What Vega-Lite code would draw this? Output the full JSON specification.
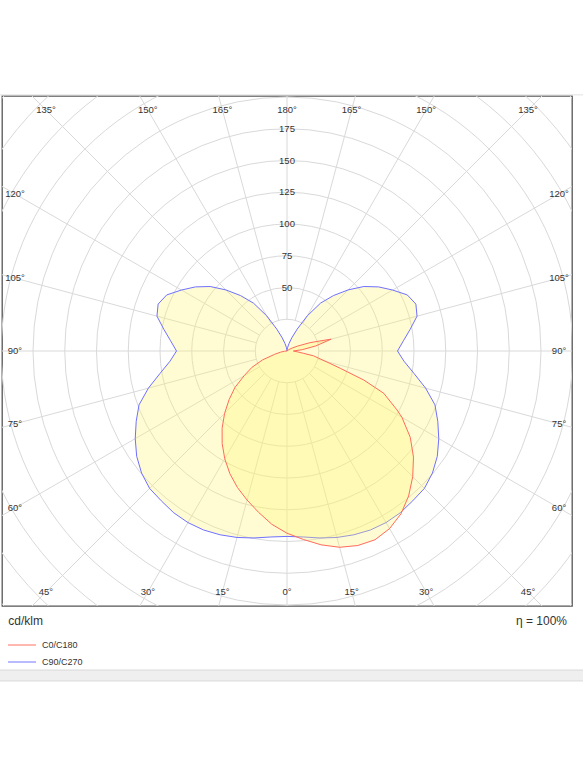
{
  "$schema": "https://vega.github.io/schema/vega-lite/v6.json",
  "description": "Polar light distribution curve, C0/C180 and C90/C270 planes, cd/klm",
  "width": 570,
  "height": 510,
  "autosize": {"type": "none"},
  "padding": {"left": 2, "top": 96, "right": 11, "bottom": 171},
  "background": "white",
  "view": {"stroke": "#555555", "strokeWidth": 1.3},
  "config": {"font": "Liberation Sans"},
  "datasets": {
    "curves": [
      {"c": "C90/C270", "a": -180, "cd": 0}, {"c": "C90/C270", "a": -175, "cd": 1}, {"c": "C90/C270", "a": -170, "cd": 3},
      {"c": "C90/C270", "a": -165, "cd": 6}, {"c": "C90/C270", "a": -160, "cd": 11}, {"c": "C90/C270", "a": -155, "cd": 19},
      {"c": "C90/C270", "a": -150, "cd": 32}, {"c": "C90/C270", "a": -145, "cd": 46}, {"c": "C90/C270", "a": -140, "cd": 57},
      {"c": "C90/C270", "a": -135, "cd": 68}, {"c": "C90/C270", "a": -130, "cd": 79}, {"c": "C90/C270", "a": -125, "cd": 88},
      {"c": "C90/C270", "a": -120, "cd": 96}, {"c": "C90/C270", "a": -115, "cd": 104.5}, {"c": "C90/C270", "a": -110, "cd": 108},
      {"c": "C90/C270", "a": -105, "cd": 106}, {"c": "C90/C270", "a": -100, "cd": 98.5}, {"c": "C90/C270", "a": -95, "cd": 92},
      {"c": "C90/C270", "a": -90, "cd": 87}, {"c": "C90/C270", "a": -85, "cd": 92.5}, {"c": "C90/C270", "a": -80, "cd": 101.5},
      {"c": "C90/C270", "a": -75, "cd": 113}, {"c": "C90/C270", "a": -70, "cd": 124}, {"c": "C90/C270", "a": -65, "cd": 131},
      {"c": "C90/C270", "a": -60, "cd": 138}, {"c": "C90/C270", "a": -55, "cd": 144.5}, {"c": "C90/C270", "a": -50, "cd": 149.5},
      {"c": "C90/C270", "a": -45, "cd": 153}, {"c": "C90/C270", "a": -40, "cd": 154}, {"c": "C90/C270", "a": -35, "cd": 155.5},
      {"c": "C90/C270", "a": -30, "cd": 156}, {"c": "C90/C270", "a": -25, "cd": 155.5}, {"c": "C90/C270", "a": -20, "cd": 154},
      {"c": "C90/C270", "a": -15, "cd": 152}, {"c": "C90/C270", "a": -10, "cd": 149.5}, {"c": "C90/C270", "a": -5, "cd": 147},
      {"c": "C90/C270", "a": 0, "cd": 146},
      {"c": "C90/C270", "a": 5, "cd": 147}, {"c": "C90/C270", "a": 10, "cd": 149.5}, {"c": "C90/C270", "a": 15, "cd": 152},
      {"c": "C90/C270", "a": 20, "cd": 154}, {"c": "C90/C270", "a": 25, "cd": 155.5}, {"c": "C90/C270", "a": 30, "cd": 156},
      {"c": "C90/C270", "a": 35, "cd": 155.5}, {"c": "C90/C270", "a": 40, "cd": 154}, {"c": "C90/C270", "a": 45, "cd": 153},
      {"c": "C90/C270", "a": 50, "cd": 149.5}, {"c": "C90/C270", "a": 55, "cd": 144.5}, {"c": "C90/C270", "a": 60, "cd": 138},
      {"c": "C90/C270", "a": 65, "cd": 131}, {"c": "C90/C270", "a": 70, "cd": 124}, {"c": "C90/C270", "a": 75, "cd": 113},
      {"c": "C90/C270", "a": 80, "cd": 101.5}, {"c": "C90/C270", "a": 85, "cd": 92.5}, {"c": "C90/C270", "a": 90, "cd": 87},
      {"c": "C90/C270", "a": 95, "cd": 92}, {"c": "C90/C270", "a": 100, "cd": 98.5}, {"c": "C90/C270", "a": 105, "cd": 106},
      {"c": "C90/C270", "a": 110, "cd": 108}, {"c": "C90/C270", "a": 115, "cd": 104.5}, {"c": "C90/C270", "a": 120, "cd": 96},
      {"c": "C90/C270", "a": 125, "cd": 88}, {"c": "C90/C270", "a": 130, "cd": 79}, {"c": "C90/C270", "a": 135, "cd": 68},
      {"c": "C90/C270", "a": 140, "cd": 57}, {"c": "C90/C270", "a": 145, "cd": 46}, {"c": "C90/C270", "a": 150, "cd": 32},
      {"c": "C90/C270", "a": 155, "cd": 19}, {"c": "C90/C270", "a": 160, "cd": 11}, {"c": "C90/C270", "a": 165, "cd": 6},
      {"c": "C90/C270", "a": 170, "cd": 3}, {"c": "C90/C270", "a": 175, "cd": 1}, {"c": "C90/C270", "a": 180, "cd": 0},

      {"c": "C0/C180", "a": -180, "cd": 0}, {"c": "C0/C180", "a": -90, "cd": 0}, {"c": "C0/C180", "a": -85, "cd": 2},
      {"c": "C0/C180", "a": -80, "cd": 5}, {"c": "C0/C180", "a": -75, "cd": 10}, {"c": "C0/C180", "a": -70, "cd": 20.5},
      {"c": "C0/C180", "a": -65, "cd": 30.5}, {"c": "C0/C180", "a": -60, "cd": 39}, {"c": "C0/C180", "a": -55, "cd": 50},
      {"c": "C0/C180", "a": -50, "cd": 59.5}, {"c": "C0/C180", "a": -45, "cd": 69.5}, {"c": "C0/C180", "a": -40, "cd": 79.5},
      {"c": "C0/C180", "a": -35, "cd": 89}, {"c": "C0/C180", "a": -30, "cd": 98}, {"c": "C0/C180", "a": -25, "cd": 106.5},
      {"c": "C0/C180", "a": -20, "cd": 114.3}, {"c": "C0/C180", "a": -15, "cd": 121.5}, {"c": "C0/C180", "a": -10, "cd": 129},
      {"c": "C0/C180", "a": -5, "cd": 137}, {"c": "C0/C180", "a": 0, "cd": 143.5}, {"c": "C0/C180", "a": 5, "cd": 149},
      {"c": "C0/C180", "a": 10, "cd": 155}, {"c": "C0/C180", "a": 15, "cd": 160}, {"c": "C0/C180", "a": 20, "cd": 163},
      {"c": "C0/C180", "a": 25, "cd": 164}, {"c": "C0/C180", "a": 30, "cd": 161.5}, {"c": "C0/C180", "a": 35, "cd": 156.5},
      {"c": "C0/C180", "a": 40, "cd": 149}, {"c": "C0/C180", "a": 45, "cd": 140}, {"c": "C0/C180", "a": 50, "cd": 130},
      {"c": "C0/C180", "a": 55, "cd": 118.5}, {"c": "C0/C180", "a": 60, "cd": 104.5}, {"c": "C0/C180", "a": 61.8, "cd": 98.3},
      {"c": "C0/C180", "a": 66.4, "cd": 83.1}, {"c": "C0/C180", "a": 69.3, "cd": 64.6}, {"c": "C0/C180", "a": 72, "cd": 44.1},
      {"c": "C0/C180", "a": 74.6, "cd": 32.7}, {"c": "C0/C180", "a": 79.7, "cd": 21.2}, {"c": "C0/C180", "a": 82, "cd": 13},
      {"c": "C0/C180", "a": 85, "cd": 8.6}, {"c": "C0/C180", "a": 90, "cd": 5}, {"c": "C0/C180", "a": 95, "cd": 12},
      {"c": "C0/C180", "a": 100, "cd": 23}, {"c": "C0/C180", "a": 105, "cd": 36}, {"c": "C0/C180", "a": 107, "cd": 27},
      {"c": "C0/C180", "a": 110, "cd": 19}, {"c": "C0/C180", "a": 115, "cd": 9}, {"c": "C0/C180", "a": 120, "cd": 4.5},
      {"c": "C0/C180", "a": 125, "cd": 2}, {"c": "C0/C180", "a": 130, "cd": 0}, {"c": "C0/C180", "a": 180, "cd": 0}
    ]
  },
  "layer": [
    {
      "data": {"values": [{}]},
      "mark": {"type": "rect", "fill": "#efefef", "stroke": "#d9d9d9", "strokeWidth": 1, "clip": false},
      "encoding": {
        "x": {"datum": -232, "type": "quantitative", "scale": {"domain": [-224.41, 224.41], "nice": false, "zero": false}, "axis": null},
        "x2": {"datum": 236},
        "y": {"datum": -251.2, "type": "quantitative", "scale": {"domain": [-200.79, 200.79], "nice": false, "zero": false}, "axis": null},
        "y2": {"datum": -259.8}
      }
    },
    {
      "data": {"values": [{}]},
      "mark": {"type": "rule", "stroke": "#e2e2e2", "strokeWidth": 1, "clip": false},
      "encoding": {
        "x": {"datum": -232, "type": "quantitative"},
        "x2": {"datum": 236},
        "y": {"datum": 201.7, "type": "quantitative"}
      }
    },
    {
      "data": {"values": [{"r": 25}, {"r": 50}, {"r": 75}, {"r": 100}, {"r": 125}, {"r": 150}, {"r": 175}, {"r": 200}, {"r": 225}, {"r": 250}, {"r": 275}, {"r": 300}]},
      "mark": {"type": "point", "shape": "circle", "filled": false, "color": "#d9d9d9", "opacity": 1, "strokeWidth": 1, "clip": true},
      "encoding": {
        "x": {"datum": 0, "type": "quantitative"},
        "y": {"datum": 0, "type": "quantitative"},
        "size": {"field": "r", "type": "quantitative", "scale": {"type": "pow", "exponent": 2, "domain": [0, 300], "range": [0, 580644]}, "legend": null}
      }
    },
    {
      "data": {"values": [
        {"deg": -165}, {"deg": -150}, {"deg": -135}, {"deg": -120}, {"deg": -105}, {"deg": -90},
        {"deg": -75}, {"deg": -60}, {"deg": -45}, {"deg": -30}, {"deg": -15}, {"deg": 0},
        {"deg": 15}, {"deg": 30}, {"deg": 45}, {"deg": 60}, {"deg": 75}, {"deg": 90},
        {"deg": 105}, {"deg": 120}, {"deg": 135}, {"deg": 150}, {"deg": 165}, {"deg": 180}
      ]},
      "transform": [
        {"calculate": "datum.deg * PI / 180", "as": "rad"},
        {"calculate": "25 * sin(datum.rad)", "as": "x"},
        {"calculate": "-25 * cos(datum.rad)", "as": "y"},
        {"calculate": "400 * sin(datum.rad)", "as": "x2"},
        {"calculate": "-400 * cos(datum.rad)", "as": "y2"}
      ],
      "mark": {"type": "rule", "stroke": "#d9d9d9", "strokeWidth": 1, "clip": true},
      "encoding": {
        "x": {"field": "x", "type": "quantitative"},
        "y": {"field": "y", "type": "quantitative"},
        "x2": {"field": "x2"},
        "y2": {"field": "y2"}
      }
    },
    {
      "data": {"name": "curves"},
      "transform": [
        {"filter": "datum.c == 'C90/C270'"},
        {"calculate": "datum.a * PI / 180", "as": "rad"},
        {"calculate": "datum.cd * sin(datum.rad)", "as": "x"},
        {"calculate": "-datum.cd * cos(datum.rad)", "as": "y"}
      ],
      "mark": {"type": "line", "fill": "#fff570", "fillOpacity": 0.3, "strokeWidth": 1, "clip": true},
      "encoding": {
        "x": {"field": "x", "type": "quantitative"},
        "y": {"field": "y", "type": "quantitative"},
        "order": {"field": "a", "type": "quantitative"},
        "color": {
          "field": "c", "type": "nominal",
          "scale": {"domain": ["C0/C180", "C90/C270"], "range": ["#ff6b5b", "#7070ff"]},
          "legend": {
            "orient": "none", "legendX": 5, "legendY": 543, "title": null,
            "symbolType": "stroke", "symbolSize": 784, "symbolStrokeWidth": 1.2, "symbolOpacity": 0.8,
            "labelFont": "Liberation Sans", "labelFontSize": 9, "labelColor": "#333333", "labelOffset": 5,
            "clipHeight": 12, "rowPadding": 5, "padding": 0
          }
        }
      }
    },
    {
      "data": {"name": "curves"},
      "transform": [
        {"filter": "datum.c == 'C0/C180'"},
        {"calculate": "datum.a * PI / 180", "as": "rad"},
        {"calculate": "datum.cd * sin(datum.rad)", "as": "x"},
        {"calculate": "-datum.cd * cos(datum.rad)", "as": "y"}
      ],
      "mark": {"type": "line", "fill": "#fff570", "fillOpacity": 0.3, "strokeWidth": 1, "clip": true},
      "encoding": {
        "x": {"field": "x", "type": "quantitative"},
        "y": {"field": "y", "type": "quantitative"},
        "order": {"field": "a", "type": "quantitative"},
        "color": {"field": "c", "type": "nominal"}
      }
    },
    {
      "data": {"values": [{"r": 50}, {"r": 75}, {"r": 100}, {"r": 125}, {"r": 150}, {"r": 175}]},
      "mark": {"type": "text", "fontSize": 9.5, "color": "#333333", "align": "center", "baseline": "middle"},
      "encoding": {
        "x": {"datum": 0, "type": "quantitative"},
        "y": {"field": "r", "type": "quantitative"},
        "text": {"field": "r", "type": "quantitative"}
      }
    },
    {
      "data": {"values": [
        {"deg": -165}, {"deg": -150}, {"deg": -135}, {"deg": -120}, {"deg": -105}, {"deg": -90},
        {"deg": -75}, {"deg": -60}, {"deg": -45}, {"deg": -30}, {"deg": -15}, {"deg": 0},
        {"deg": 15}, {"deg": 30}, {"deg": 45}, {"deg": 60}, {"deg": 75}, {"deg": 90},
        {"deg": 105}, {"deg": 120}, {"deg": 135}, {"deg": 150}, {"deg": 165}, {"deg": 180}
      ]},
      "transform": [
        {"calculate": "datum.deg * PI / 180", "as": "rad"},
        {"calculate": "min(214.2 / max(abs(sin(datum.rad)), 1e-9), 189.8 / max(abs(cos(datum.rad)), 1e-9))", "as": "t"},
        {"calculate": "datum.t * sin(datum.rad)", "as": "x"},
        {"calculate": "-datum.t * cos(datum.rad)", "as": "y"},
        {"calculate": "abs(datum.deg) + '°'", "as": "label"}
      ],
      "mark": {"type": "text", "fontSize": 9.5, "color": "#333333", "align": "center", "baseline": "middle"},
      "encoding": {
        "x": {"field": "x", "type": "quantitative"},
        "y": {"field": "y", "type": "quantitative"},
        "text": {"field": "label"}
      }
    },
    {
      "data": {"values": [{}]},
      "mark": {"type": "text", "text": "cd/klm", "fontSize": 12, "color": "#333333", "align": "left", "baseline": "middle", "clip": false},
      "encoding": {
        "x": {"datum": -219.5, "type": "quantitative"},
        "y": {"datum": -212.6, "type": "quantitative"}
      }
    },
    {
      "data": {"values": [{}]},
      "mark": {"type": "text", "text": "η = 100%", "fontSize": 12, "color": "#333333", "align": "right", "baseline": "middle", "clip": false},
      "encoding": {
        "x": {"datum": 220.5, "type": "quantitative"},
        "y": {"datum": -212.6, "type": "quantitative"}
      }
    }
  ]
}
